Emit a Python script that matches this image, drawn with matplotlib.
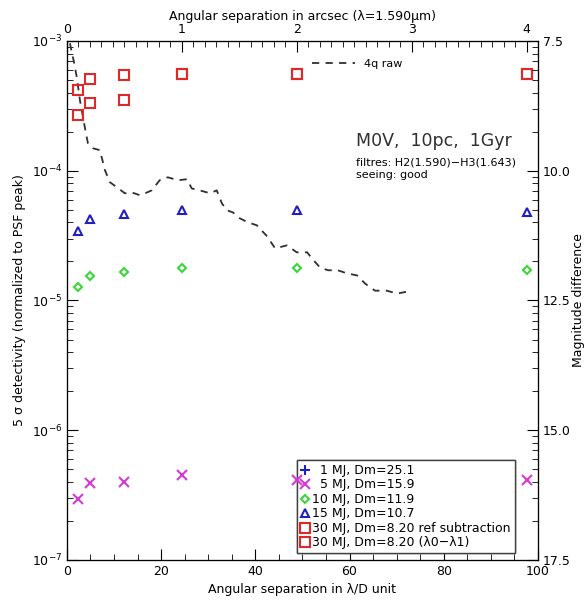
import numpy as np
import matplotlib
matplotlib.use("Agg")
import matplotlib.pyplot as plt
from matplotlib.ticker import MultipleLocator, NullFormatter

# separations of the companions (lambda/D units)
sep_lod = [2.44, 4.88, 12.2, 24.4, 48.8, 97.6]

# 5 sigma detectivity of each simulated companion
mj1 = [9.1e-11] * 6          # off chart (Dm=25.1)
mj5 = [2.95e-7, 3.9e-7, 4.0e-7, 4.5e-7, 4.1e-7, 4.1e-7]
mj10 = [1.26e-5, 1.55e-5, 1.66e-5, 1.77e-5, 1.77e-5, 1.73e-5]
mj15 = [3.45e-5, 4.25e-5, 4.6e-5, 5.0e-5, 5.0e-5, 4.8e-5]
mj30_ref = [4.2e-4, 5.1e-4, 5.5e-4, 5.6e-4, 5.6e-4, 5.6e-4]
mj30_dif = [2.7e-4, 3.3e-4, 3.5e-4, 5.6e-4, 5.6e-4, 5.6e-4]

# raw 4q coronagraph profile
raw_x = [0.64, 1.06, 1.49, 2.12, 2.76, 3.40, 4.03, 4.46, 5.52, 7.0, 8.07, 9.13,
         10.6, 12.3, 13.8, 15.5, 17.0, 18.0, 19.7, 21.4, 23.6, 25.5, 26.5, 28.2,
         30.4, 31.8, 32.9, 34.0, 35.2, 36.7, 38.4, 40.3, 42.5, 44.2, 46.7, 48.8,
         51.0, 52.0, 53.7, 55.4, 57.5, 59.4, 61.6, 63.3, 65.4, 67.9, 70.1, 72.2]
raw_y = [9.6e-4, 8.1e-4, 6.9e-4, 5.2e-4, 3.5e-4, 2.6e-4, 1.95e-4, 1.63e-4, 1.49e-4,
         1.44e-4, 1.01e-4, 8.15e-5, 7.46e-5, 6.7e-5, 6.8e-5, 6.47e-5, 6.8e-5, 7.06e-5,
         8.45e-5, 8.9e-5, 8.45e-5, 8.6e-5, 7.3e-5, 7.06e-5, 6.7e-5, 7.06e-5, 5.6e-5,
         4.95e-5, 4.78e-5, 4.3e-5, 4.0e-5, 3.8e-5, 3.12e-5, 2.52e-5, 2.66e-5, 2.35e-5,
         2.35e-5, 2.11e-5, 1.80e-5, 1.71e-5, 1.71e-5, 1.62e-5, 1.56e-5, 1.35e-5,
         1.19e-5, 1.19e-5, 1.13e-5, 1.17e-5]

mag_ticks = [7.5, 10.0, 12.5, 15.0, 17.5]
arcsec_ticks = [0, 1, 2, 3, 4]
lod_per_arcsec = 24.4

red = "#e02828"
fs = 9

fig = plt.figure(figsize=(5.87, 6.0), dpi=100)
ax = fig.add_axes([0.114, 0.0667, 0.8025, 0.865])

raw_line, = ax.plot(raw_x, raw_y, color="#303030", lw=1.3, ls=(0, (4, 3.5)))
h1, = ax.plot(sep_lod, mj1, "+", color="#2020c0", ms=7, mew=1.5, ls="none")
h5, = ax.plot(sep_lod, mj5, "x", color="#d838d8", ms=7, mew=1.5, ls="none", zorder=5)
h10, = ax.plot(sep_lod, mj10, "D", color="#38d838", ms=4.5, mfc="none", mew=1.5, ls="none")
h15, = ax.plot(sep_lod, mj15, "^", color="#2020c0", ms=6, mfc="none", mew=1.5, ls="none")
h30r, = ax.plot(sep_lod, mj30_ref, "s", color=red, ms=7, mfc="none", mew=1.5, ls="none")
h30d, = ax.plot(sep_lod, mj30_dif, "s", color=red, ms=7, mfc="none", mew=1.5, ls="none")

ax.set_yscale("log")
ax.set_xlim(0, 100)
ax.set_ylim(1e-7, 1e-3)
ax.xaxis.set_major_locator(MultipleLocator(20))
ax.xaxis.set_minor_locator(MultipleLocator(5))
ax.tick_params(which="both", direction="in", labelsize=fs, top=False, right=False)
ax.tick_params(which="major", length=8)
ax.tick_params(which="minor", length=4)
ax.set_xlabel("Angular separation in λ/D unit", fontsize=fs)
ax.set_ylabel("5 σ detectivity (normalized to PSF peak)", fontsize=fs)

# right axis: magnitude difference
ax2 = ax.twinx()
ax2.set_yscale("log")
ax2.set_ylim(1e-7, 1e-3)
ax2.set_yticks([10 ** (-m / 2.5) for m in mag_ticks])
ax2.set_yticklabels([f"{m:.1f}" for m in mag_ticks])
ax2.yaxis.set_minor_formatter(NullFormatter())
ax2.tick_params(which="both", direction="in", labelsize=fs)
ax2.tick_params(which="major", length=8)
ax2.tick_params(which="minor", length=4)
ax2.set_ylabel("Magnitude difference", fontsize=fs, labelpad=1)

# top axis: arcsec
ax3 = ax.twiny()
ax3.set_xlim(0, 100 / lod_per_arcsec)
ax3.set_xticks(arcsec_ticks)
ax3.xaxis.set_minor_locator(MultipleLocator(0.1))
ax3.tick_params(which="both", direction="in", labelsize=fs)
ax3.tick_params(which="major", length=8)
ax3.tick_params(which="minor", length=4)
ax3.set_xlabel("Angular separation in arcsec (λ=1.590μm)", fontsize=fs, labelpad=2)

leg = ax.legend([h1, h5, h10, h15, h30r, h30d],
                ["\u20071 MJ, Dm=25.1", "\u20075 MJ, Dm=15.9", "10 MJ, Dm=11.9",
                 "15 MJ, Dm=10.7", "30 MJ, Dm=8.20 ref subtraction", "30 MJ, Dm=8.20 (λ0−λ1)"],
                loc="lower left", bbox_to_anchor=(0.488, 0.013), borderaxespad=0,
                fontsize=fs, handlelength=0.7, handletextpad=0.25, labelspacing=0.12,
                borderpad=0.3, fancybox=False, framealpha=1, edgecolor="#404040")
leg.set_zorder(3)
ax.add_artist(leg)
ax3.legend([raw_line], ["4q raw"], loc="upper left", bbox_to_anchor=(0.5, 0.985),
           frameon=False, fontsize=fs - 1, handlelength=3.8, handletextpad=0.8)

ax.text(0.613, 0.808, "M0V,  10pc,  1Gyr", transform=ax.transAxes, fontsize=12.5,
        color="#303030", va="center")
ax.text(0.613, 0.766, "filtres: H2(1.590)−H3(1.643)", transform=ax.transAxes,
        fontsize=fs - 1, va="center")
ax.text(0.613, 0.741, "seeing: good", transform=ax.transAxes, fontsize=fs - 1, va="center")

fig.savefig("out.png", dpi=100)
